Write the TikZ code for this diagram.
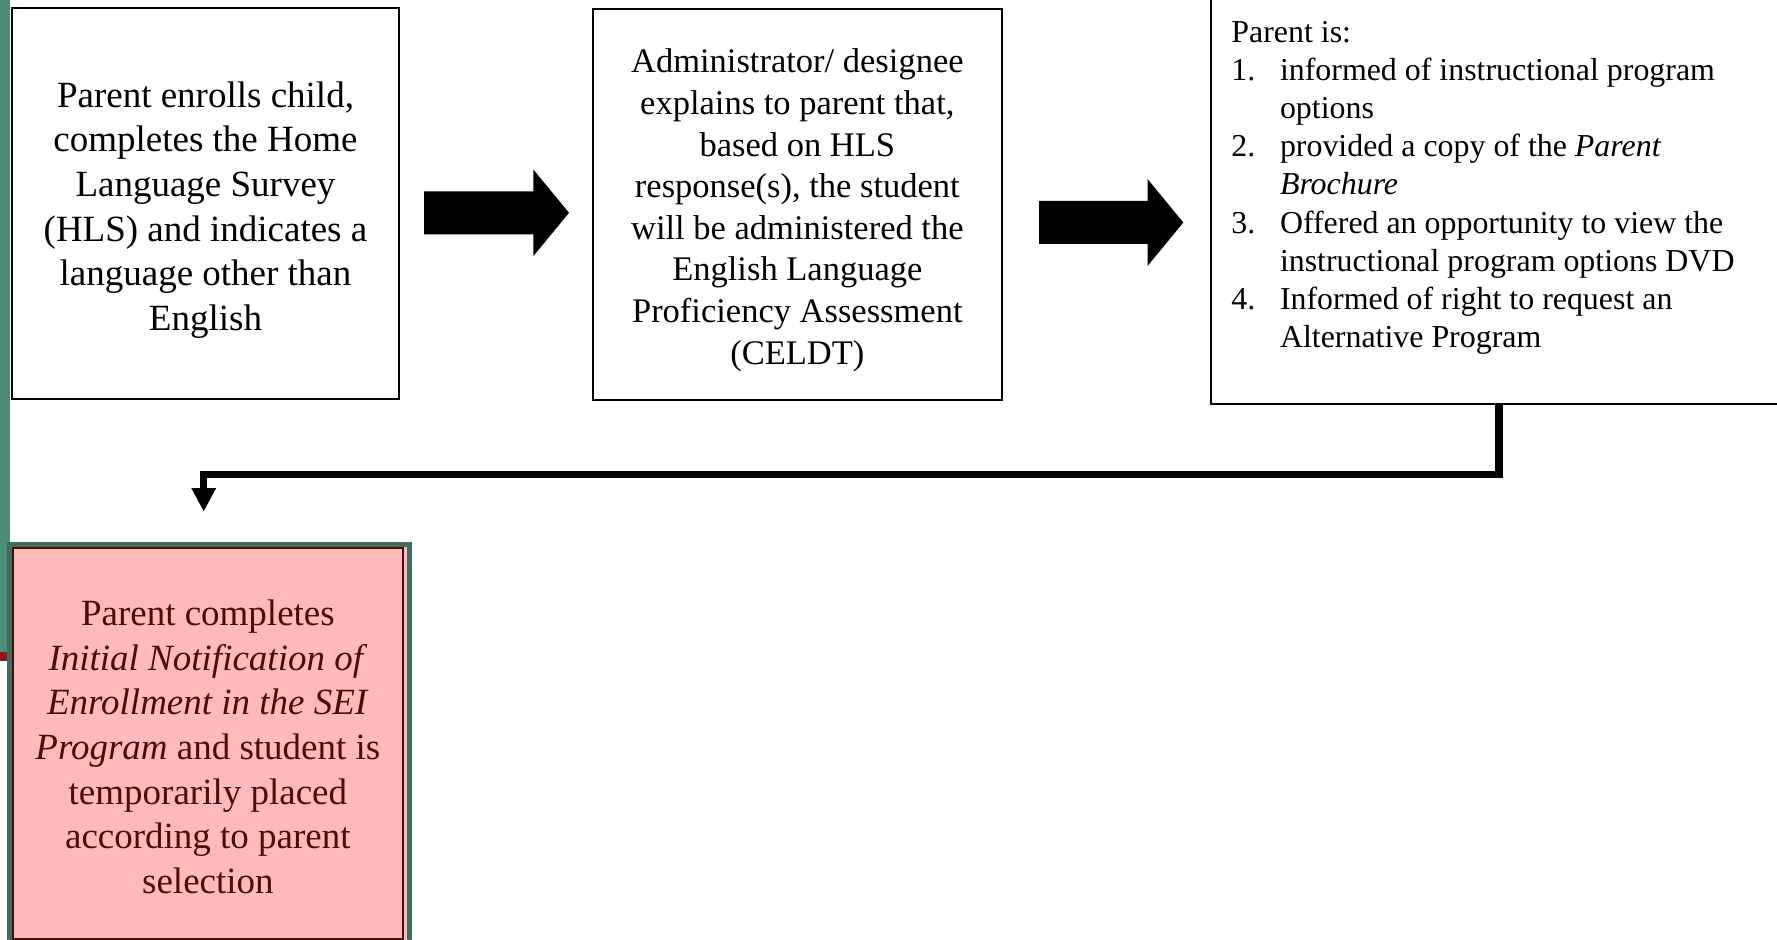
\documentclass[tikz,border=0pt]{standalone}
\usepackage{fontspec}
\setmainfont{Liberation Serif}
\usetikzlibrary{arrows.meta,calc}
\definecolor{stripgreen}{RGB}{78,140,122}
\definecolor{framegreen}{RGB}{62,110,95}
\definecolor{stripred}{RGB}{150,20,20}
\definecolor{notepink}{RGB}{255,187,187}
\definecolor{noteink}{RGB}{80,10,10}
\newcommand\pxu{0.5pt}
% solid block arrow: start x, head base x, tip x, centre y
\newcommand\blockarrow[4]{%
  \fill[black] (#1,#4-21.5) -- (#2,#4-21.5) -- (#2,#4-43.3) -- (#3,#4)
    -- (#2,#4+43.3) -- (#2,#4+21.5) -- (#1,#4+21.5) -- cycle;}
\begin{document}
\begin{tikzpicture}[x=0.5pt,y=-0.5pt,
  stepbox/.style={draw=black,line width=0.8pt,rectangle,inner sep=0pt,fill=white},
  steptext/.style={inner sep=0pt,align=center},
  bigtext/.style={font=\fontsize{18.5pt}{22.3pt}\selectfont},
  midtext/.style={font=\fontsize{17.25pt}{20.8pt}\selectfont},
  smalltext/.style={font=\fontsize{15.95pt}{19.1pt}\selectfont},
  flow/.style={line width=3.75pt,line join=miter,-{Triangle[width=11.5pt,length=11.8pt]}}]
\useasboundingbox (0,0) rectangle (1777,940);
\clip (0,0) rectangle (1777,940);

% side strip
\fill[stripgreen] (0,0) rectangle (10,652);
\fill[stripred] (0,652) rectangle (10,661);

% process steps
\node[stepbox,minimum width={387*\pxu},minimum height={391*\pxu}] (enroll) at (205.5,203.5) {};
\node[steptext,bigtext] (enrolltext) at ($(enroll.center)+(0,6.5)$)
  {Parent enrolls child,\\completes the Home\\Language Survey\\(HLS) and indicates a\\language other than\\English};

\node[stepbox,minimum width={409.3*\pxu},minimum height={391*\pxu}] (explain) at (797.35,204.5) {};
\node[steptext,midtext] (explaintext) at ($(explain.center)+(0,5.7)$)
  {Administrator/ designee\\explains to parent that,\\based on HLS\\response(s), the student\\will be administered the\\English Language\\Proficiency Assessment\\(CELDT)};

\node[stepbox,minimum width={589*\pxu},minimum height={434*\pxu}] (inform) at (1505.2,187) {};
\node[smalltext,anchor=north west,inner sep=0pt,align=left] (informtext) at (1231,20.5)
  {Parent is:\\
   \makebox[24.3pt][l]{1.}informed of instructional program\\
   \hspace*{24.3pt}options\\
   \makebox[24.3pt][l]{2.}provided a copy of the \textit{Parent}\\
   \hspace*{24.3pt}\textit{Brochure}\\
   \makebox[24.3pt][l]{3.}Offered an opportunity to view the\\
   \hspace*{24.3pt}instructional program options DVD\\
   \makebox[24.3pt][l]{4.}Informed of right to request an\\
   \hspace*{24.3pt}Alternative Program};

% block arrows between the steps
\blockarrow{424}{533.3}{569}{212.8}
\blockarrow{1039}{1147.7}{1183.3}{222.5}

% final step
\draw[framegreen,line width=2.35pt,fill=notepink] (9.7,544.7) rectangle (409.8,980);
\node[draw=noteink,line width=1pt,inner sep=0pt,
      minimum width={389.8*\pxu},minimum height={390.5*\pxu}] (choose) at (207.9,743.75) {};
\node[steptext,bigtext,text=noteink] (choosetext) at ($(choose.center)+(0,3)$)
  {Parent completes\\\textit{Initial Notification of}\\\textit{Enrollment in the SEI}\\\textit{Program} and student is\\temporarily placed\\according to parent\\selection};

% elbow connector down to the final step
\coordinate (drop) at (203.7,511.7);
\draw[flow] ($(inform.south)+(-6,-2)$) -- ++(0,71.5) -| (drop);
\end{tikzpicture}
\end{document}
